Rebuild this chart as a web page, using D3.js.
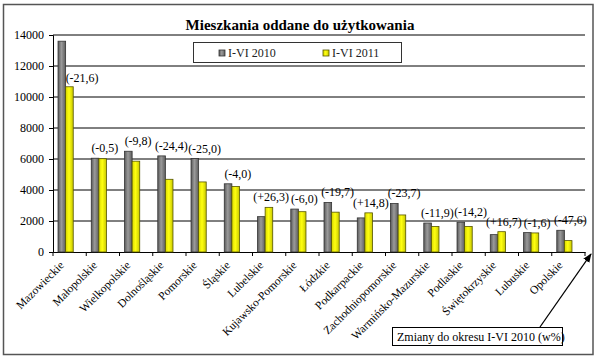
<!DOCTYPE html>
<html><head><meta charset="utf-8">
<script src="https://cdn.jsdelivr.net/npm/d3@7/dist/d3.min.js"></script>
<style>body{margin:0;background:#fff}svg{display:block}</style>
</head><body>
<svg id="c" width="600" height="357" font-family="'Liberation Serif'"></svg>
<script>
const categories = ["Mazowieckie","Małopolskie","Wielkopolskie","Dolnośląskie","Pomorskie","Śląskie","Lubelskie","Kujawsko-Pomorskie","Łódzkie","Podkarpackie","Zachodniopomorskie","Warmińsko-Mazurskie","Podlaskie","Świętokrzyskie","Lubuskie","Opolskie"];
const values2010 = [13600,6050,6500,6200,6030,4400,2280,2770,3200,2200,3130,1870,1920,1120,1250,1400];
const values2011 = [10660,6020,5860,4690,4520,4225,2880,2600,2570,2525,2390,1650,1650,1310,1230,735];
const changes = ["(-21,6)","(-0,5)","(-9,8)","(-24,4)","(-25,0)","(-4,0)","(+26,3)","(-6,0)","(-19,7)","(+14,8)","(-23,7)","(-11,9)","(-14,2)","(+16,7)","(-1,6)","(-47,6)"];
const seriesNames = ["I-VI 2010","I-VI 2011"];
const yTicks = [0,2000,4000,6000,8000,10000,12000,14000];
const title = "Mieszkania oddane do użytkowania";
const note = "Zmiany do okresu I-VI 2010 (w%)";

const FONT = "'Liberation Serif', 'Times New Roman', serif";
const svg = d3.select("#c");
const defs = svg.append("defs");
const g1 = defs.append("linearGradient").attr("id","gGray").attr("x1","0").attr("x2","1");
g1.append("stop").attr("offset","0").attr("stop-color","#5a5a5a");
g1.append("stop").attr("offset","0.45").attr("stop-color","#9a9a9a");
g1.append("stop").attr("offset","1").attr("stop-color","#5e5e5e");
const g2 = defs.append("linearGradient").attr("id","gYel").attr("x1","0").attr("x2","1");
g2.append("stop").attr("offset","0").attr("stop-color","#d8d800");
g2.append("stop").attr("offset","0.45").attr("stop-color","#ffff10");
g2.append("stop").attr("offset","1").attr("stop-color","#c8c800");
const arr = defs.append("marker").attr("id","arr").attr("viewBox","0 0 10 10").attr("refX",9).attr("refY",5)
  .attr("markerWidth",7).attr("markerHeight",7).attr("orient","auto");
arr.append("path").attr("d","M0,1 L10,5 L0,9 Z").attr("fill","#000");

svg.append("rect").attr("x",3.5).attr("y",4.5).attr("width",589.5).attr("height",350).attr("fill","#fff")
  .attr("stroke","#555").attr("stroke-width",1.5);

const x = d3.scaleBand().domain(categories).range([53,585]).padding(0);
const y = d3.scaleLinear().domain([0,14000]).range([252,35]);

svg.append("g").selectAll("line").data(yTicks.slice(1)).join("line")
  .attr("x1",53).attr("x2",585).attr("y1",d=>y(d)).attr("y2",d=>y(d)).attr("stroke","#000").attr("stroke-width",1);

const ya = svg.append("g").attr("transform","translate(53,0)")
  .call(d3.axisLeft(y).tickValues(yTicks).tickSize(4).tickPadding(5).tickFormat(d3.format("d")));
ya.attr("font-family",FONT).attr("font-size",12);
ya.selectAll("text").attr("fill","#000");
ya.selectAll("line,path").attr("stroke","#000");

const xa = svg.append("g").attr("transform","translate(0,252)")
  .call(d3.axisBottom(x).tickSize(0).tickFormat(""));
xa.select("path").attr("stroke","#000");
svg.append("g").selectAll("line").data(categories.concat([null])).join("line")
  .attr("x1",(d,i)=>53+i*x.bandwidth()).attr("x2",(d,i)=>53+i*x.bandwidth())
  .attr("y1",252).attr("y2",256).attr("stroke","#000");

const bw = 7.6, off = -4;
const bars = svg.append("g");
bars.selectAll("rect.a").data(categories).join("rect").attr("class","a")
  .attr("x",d=>x(d)+x.bandwidth()/2+off-bw).attr("width",bw)
  .attr("y",(d,i)=>y(values2010[i])).attr("height",(d,i)=>y(0)-y(values2010[i]))
  .attr("fill","url(#gGray)").attr("stroke","#333").attr("stroke-width",0.8);
bars.selectAll("rect.b").data(categories).join("rect").attr("class","b")
  .attr("x",d=>x(d)+x.bandwidth()/2+off).attr("width",bw)
  .attr("y",(d,i)=>y(values2011[i])).attr("height",(d,i)=>y(0)-y(values2011[i]))
  .attr("fill","url(#gYel)").attr("stroke","#555500").attr("stroke-width",0.8);

svg.append("g").attr("font-family",FONT).selectAll("text").data(categories).join("text")
  .attr("x",(d,i)=> i===0 ? x(d)+x.bandwidth()/2+off : x(d)+x.bandwidth()/2+2)
  .attr("y",(d,i)=> i===0 ? y(values2011[i])-5 : y(Math.max(values2010[i],values2011[i]))-6)
  .attr("text-anchor",(d,i)=> i===0 ? "start" : "middle")
  .attr("font-size",12).attr("fill","#000").text((d,i)=>changes[i]);

svg.append("g").attr("font-family",FONT).selectAll("text").data(categories).join("text")
  .attr("transform",d=>`translate(${x(d)+x.bandwidth()/2-5},${266}) rotate(-45)`)
  .attr("text-anchor","end").attr("font-size",11.5).attr("fill","#000").text(d=>d);

svg.append("text").attr("font-family",FONT).attr("x",300).attr("y",30).attr("text-anchor","middle")
  .attr("font-size",15).attr("font-weight","bold").attr("fill","#000").text(title);

svg.append("rect").attr("x",193.5).attr("y",42.5).attr("width",208).attr("height",20)
  .attr("fill","#fff").attr("stroke","#333").attr("stroke-width",1);
const legFill = ["url(#gGray)","url(#gYel)"], legStroke=["#333","#555500"], legX=[219,323];
seriesNames.forEach((s,i)=>{
  svg.append("rect").attr("x",legX[i]).attr("y",50).attr("width",6).attr("height",6)
    .attr("fill",legFill[i]).attr("stroke",legStroke[i]).attr("stroke-width",0.8);
  svg.append("text").attr("font-family",FONT).attr("x",legX[i]+9).attr("y",57).attr("font-size",12).attr("fill","#222").text(s);
});

svg.append("line").attr("x1",540).attr("y1",327).attr("x2",591).attr("y2",254)
  .attr("stroke","#000").attr("stroke-width",1.3).attr("marker-end","url(#arr)");
svg.append("rect").attr("x",392.5).attr("y",327.5).attr("width",170).attr("height",18)
  .attr("fill","#fff").attr("stroke","#000").attr("stroke-width",1);
svg.append("text").attr("font-family",FONT).attr("x",397).attr("y",341).attr("font-size",12).attr("fill","#000").text(note);
</script>
</body></html>
